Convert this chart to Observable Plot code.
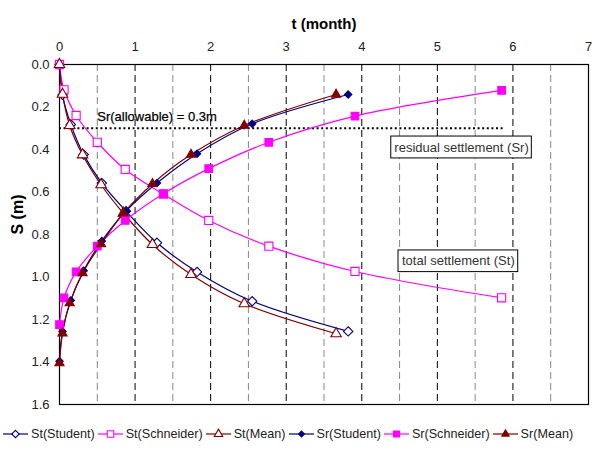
<!DOCTYPE html>
<html><head><meta charset="utf-8">
<script src="https://cdn.jsdelivr.net/npm/d3@7"></script>
<script src="https://cdn.jsdelivr.net/npm/@observablehq/plot@0.6"></script>
<style>
body{margin:0;background:#fff;font-family:"Liberation Sans",Arial,sans-serif;}
#legend{display:flex;align-items:center;height:31px;padding-left:3px;font-size:12.6px;color:#222;white-space:nowrap}
#legend .it{display:flex;align-items:center;margin-right:3px}
#legend svg{margin-right:3px}
</style></head>
<body><div id="chart"></div><div id="legend"></div>
<script>
const tStudent = [0,0.04,0.15,0.32,0.56,0.88,1.29,1.82,2.55,3.82];
const stStudent = [0,0.143,0.282,0.424,0.558,0.69,0.839,0.976,1.114,1.256];
const srStudent = [1.396,1.256,1.11,0.97,0.83,0.69,0.558,0.42,0.279,0.141];
const tMean = [0,0.04,0.135,0.305,0.55,0.845,1.23,1.74,2.445,3.66];
const stMean = [0,0.14,0.287,0.425,0.566,0.70,0.847,0.988,1.126,1.267];
const srMean = [1.405,1.265,1.123,0.982,0.845,0.70,0.562,0.424,0.287,0.141];
const tSchneider = [0,0.06,0.22,0.50,0.87,1.375,1.975,2.77,3.91,5.85];
const stSchneider = [0,0.119,0.24,0.366,0.494,0.61,0.734,0.855,0.974,1.098];
const srSchneider = [1.224,1.098,0.976,0.855,0.734,0.608,0.49,0.366,0.243,0.122];
const xTicks = [0,1,2,3,4,5,6,7];
const yTicks = [0,0.2,0.4,0.6,0.8,1.0,1.2,1.4,1.6];
const majorGrid = [1,2,3,4,5,6];
const minorGrid = [0.5,1.5,2.5,3.5,4.5,5.5,6.5];
const allowable = 0.3;
const allowableEnd = 5.87;
const boxes = [
  {label:"residual settlement (Sr)", x1:4.39, x2:6.25, y1:0.339, y2:0.442},
  {label:"total settlement (St)", x1:4.486, x2:6.07, y1:0.875, y2:0.977}
];

const series = [
  {name:"St(Student)", t:tStudent, s:stStudent, color:"#000080", symbol:"diamond2", fill:"white", r:4.2},
  {name:"St(Schneider)", t:tSchneider, s:stSchneider, color:"#ff00ff", symbol:"square", fill:"white", r:4.6},
  {name:"St(Mean)", t:tMean, s:stMean, color:"#800000", symbol:"triangle", fill:"white", r:3.9},
  {name:"Sr(Student)", t:tStudent, s:srStudent, color:"#000080", symbol:"diamond2", fill:"#000080", r:3.3},
  {name:"Sr(Schneider)", t:tSchneider, s:srSchneider, color:"#ff00ff", symbol:"square", fill:"#ff00ff", r:4.3},
  {name:"Sr(Mean)", t:tMean, s:srMean, color:"#800000", symbol:"triangle", fill:"#800000", r:3.4}
];
const rows = s => s.t.map((t,i)=>({t, s:s.s[i]}));

const marks = [
  Plot.ruleX(minorGrid, {stroke:"#888", strokeDasharray:"7,4"}),
  Plot.ruleX(majorGrid, {stroke:"#000", strokeDasharray:"7,4"}),
  Plot.frame({stroke:"#000", strokeWidth:1.2}),
  Plot.axisX(xTicks, {anchor:"top", tickSize:0, tickPadding:14, fontSize:13, fill:"#222", label:null}),
  Plot.axisY(yTicks, {anchor:"left", tickSize:0, tickPadding:10, fontSize:13, fill:"#222", tickFormat:d3.format(".1f"), label:null}),
  Plot.ruleY([allowable], {x1:0, x2:allowableEnd, stroke:"#000", strokeWidth:2, strokeDasharray:"2,2.6"})
];
for (const s of series) {
  marks.push(Plot.line(rows(s), {x:"t", y:"s", stroke:s.color, strokeWidth:1.2, curve:"catmull-rom"}));
}
for (const s of series) {
  marks.push(Plot.dot(rows(s), {x:"t", y:"s", stroke:s.color, fill:s.fill, symbol:()=>s.symbol, r:s.r, strokeWidth:1.1}));
}
marks.push(
  Plot.text(["Sr(allowable) = 0.3m"], {x:0.5, y:0.245, text:d=>d, textAnchor:"start", fontSize:13, fill:"#000", stroke:"#000", strokeWidth:0.25}),
  Plot.rect(boxes, {x1:"x1", x2:"x2", y1:"y1", y2:"y2", fill:"white", stroke:"#000", strokeWidth:1}),
  Plot.text(boxes, {x:d=>(d.x1+d.x2)/2, y:d=>(d.y1+d.y2)/2, text:"label", fontSize:13, fill:"#333"}),
  Plot.text(["t (month)"], {frameAnchor:"top", dy:-46, text:d=>d, fontSize:15, fontWeight:"bold", fill:"#000"}),
  Plot.text(["S (m)"], {frameAnchor:"left", dx:-42, rotate:-90, text:d=>d, fontSize:16, fontWeight:"bold", fill:"#000"})
);

const chart = Plot.plot({
  width:595, height:418,
  marginLeft:59, marginRight:7, marginTop:64, marginBottom:14,
  style:{fontFamily:"'Liberation Sans', Arial, sans-serif", background:"white", overflow:"visible"},
  x:{domain:[0,7], axis:null},
  y:{domain:[0,1.6], reverse:true, axis:null},
  marks
});
document.getElementById("chart").appendChild(chart);

const leg = document.getElementById("legend");
for (const s of series) {
  const it = document.createElement("div"); it.className = "it";
  const sym = d3.symbol().type(s.symbol==="diamond2"?d3.symbolDiamond2:s.symbol==="square"?d3.symbolSquare:d3.symbolTriangle).size(Math.PI*(s.r*0.8)**2)();
  it.innerHTML = `<svg width="25" height="12"><line x1="0" x2="25" y1="6" y2="6" stroke="${s.color}" stroke-width="1.2"/><path transform="translate(12.5,6)" d="${sym}" fill="${s.fill}" stroke="${s.color}" stroke-width="1.1"/></svg><span>${s.name}</span>`;
  leg.appendChild(it);
}
</script></body></html>
